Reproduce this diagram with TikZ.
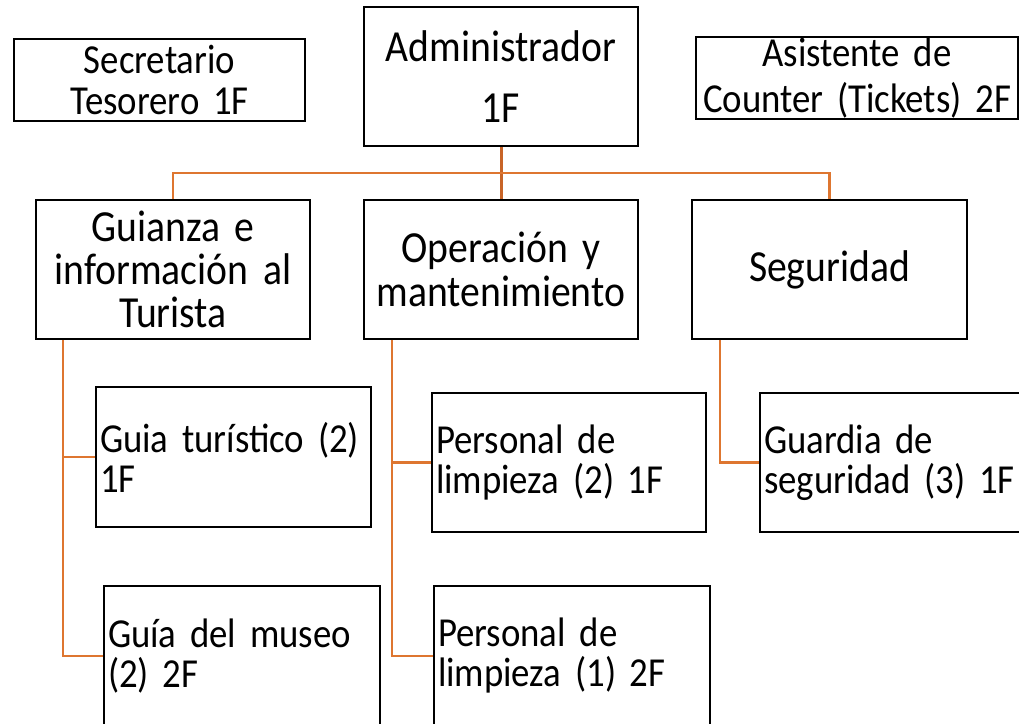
\documentclass[tikz,border=0pt]{standalone}
\usepackage{fontspec}
\setmainfont{Carlito}[FakeStretch=0.893]
\usetikzlibrary{calc}
\newcommand\bxfont[2]{\fontsize{#1}{#2}\selectfont\fontdimen2\font=0.16em\relax}
\definecolor{conncol}{RGB}{222,118,48}
\definecolor{conndark}{RGB}{200,100,40}
\tikzset{
  box/.style={draw=black, line width=1.6pt, rectangle, inner ysep=0pt, inner xsep=4pt,
    font=\bxfont{41.2}{40}},
  bigbox/.style={box, font=\bxfont{44.4}{44}},
  cbox/.style={box, align=center},
  lbox/.style={box, align=left},
  conn/.style={draw=conncol, line width=2.4pt},
  conntop/.style={draw=conndark, line width=3pt}
}
\begin{document}
\begin{tikzpicture}[x=1pt,y=-1pt]
\useasboundingbox (0,0) rectangle (1019,723);
% top row
\node[cbox, minimum width=291pt, minimum height=82pt, text width=283pt, font=\bxfont{41.2}{41}] (sec) at (159.5,80) {Secretario\\Tesorero 1F};
\node[cbox, bigbox, minimum width=274pt, minimum height=139pt, text width=266pt, font=\bxfont{44.4}{61}] (adm) at (501,76.5) {Administrador\\1F};
\node[cbox, minimum width=322pt, minimum height=82pt, text width=318pt, inner xsep=2pt, font=\bxfont{41.2}{46}] (asis) at (857,78) {\mbox{Asistente de}\\\mbox{Counter (Tickets) 2F}};
% second row
\node[cbox, bigbox, minimum width=274pt, minimum height=139pt, text width=266pt, font=\bxfont{44.4}{43}] (gui) at (173,269.5) {Guianza e\\\mbox{informaci\'on al}\\Turista};
\node[cbox, bigbox, minimum width=274pt, minimum height=139pt, text width=266pt] (ope) at (501,269.5) {\mbox{Operaci\'on y}\\mantenimiento};
\node[cbox, bigbox, minimum width=275pt, minimum height=139pt, text width=267pt] (seg) at (829.5,269.5) {Seguridad};
% third row
\node[lbox, minimum width=275pt, minimum height=140pt, text width=267pt] (gt) at (233.5,457) {\mbox{Guia tur\'istico (2)}\\1F};
\node[lbox, minimum width=274pt, minimum height=139pt, text width=266pt] (pl2) at (569,462.5) {\mbox{Personal de}\\\mbox{limpieza (2) 1F}};
\node[lbox, minimum width=275pt, minimum height=139pt, text width=267pt] (gs) at (897.5,462.5) {\mbox{Guardia de}\\\mbox{seguridad (3) 1F}};
% fourth row
\node[lbox, minimum width=276pt, minimum height=140pt, text width=268pt] (gm) at (242,656) {\mbox{Gu\'ia del museo}\\(2) 2F};
\node[lbox, minimum width=276pt, minimum height=140pt, text width=268pt] (pl1) at (572,656) {\mbox{Personal de}\\\mbox{limpieza (1) 2F}};
% connectors
\coordinate (bus) at (0,173);
\draw[conntop] (adm.south) -- (ope.north);
\draw[conn] (gui.north) -- (gui.north |- bus) -- (seg.north |- bus) -- (seg.north);
\coordinate (gx) at ($(gui.south west)+(28,0)$);
\coordinate (ox) at ($(ope.south west)+(29,0)$);
\coordinate (sx) at ($(seg.south west)+(29,0)$);
\draw[conn] (gx) -- (gx |- gm.west) -- (gm.west);
\draw[conn] (gx |- gt.west) -- (gt.west);
\draw[conn] (ox) -- (ox |- pl1.west) -- (pl1.west);
\draw[conn] (ox |- pl2.west) -- (pl2.west);
\draw[conn] (sx) -- (sx |- gs.west) -- (gs.west);
\end{tikzpicture}
\end{document}
